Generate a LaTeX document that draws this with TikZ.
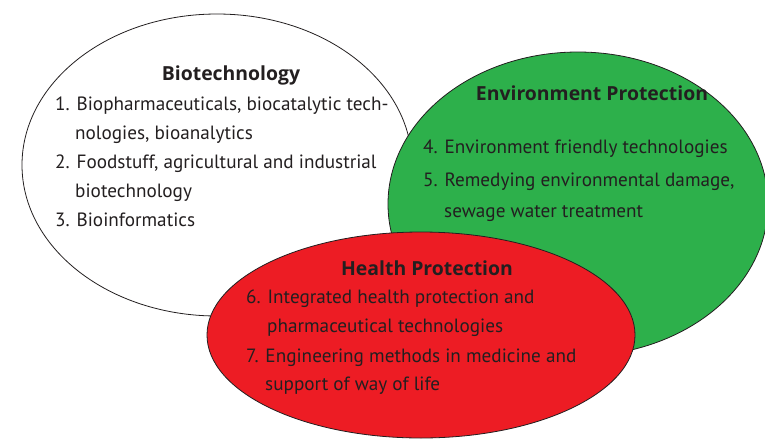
\documentclass[tikz,border=0pt]{standalone}
\usepackage{fontspec}
\setmainfont{PT Sans}
\newfontfamily\titlefont{Open Sans}
\definecolor{envgreen}{RGB}{45,176,75}
\definecolor{healthred}{RGB}{237,28,36}
\definecolor{txt}{RGB}{35,31,32}
\tikzset{
  blob/.style={draw=txt, line width=0.8pt},
  title/.style={font=\titlefont\fontsize{19.4}{22}\selectfont\bfseries, text=txt, anchor=base, inner sep=0pt},
  item/.style={font=\fontsize{19.2}{22}\selectfont, text=txt, anchor=base west, inner sep=0pt}
}
\begin{document}
\begin{tikzpicture}[x=1pt,y=-1pt]
\useasboundingbox (0,0) rectangle (765,439);
\clip (0,0) rectangle (765,439);
% ellipses
\path[blob, fill=white] (217,165) ellipse [x radius=195pt, y radius=151pt];
\path[blob, fill=envgreen] (578,204) ellipse [x radius=190pt, y radius=152pt];
\path[blob, fill=healthred] (421,335) ellipse [x radius=214pt, y radius=103pt];
% Biotechnology
\node[title] (bt) at (231,80) {Biotechnology};
\node[item] (b1) at (55,110) {1. Biopharmaceuticals, biocatalytic tech-};
\node[item] (b1b) at (75,139) {nologies, bioanalytics};
\node[item] (b2) at (55,168) {2. Foodstuff, agricultural and industrial};
\node[item] (b2b) at (75,197) {biotechnology};
\node[item] (b3) at (55,226) {3. Bioinformatics};
% Environment
\node[title] (et) at (592,100) {Environment Protection};
\node[item] (e4) at (423,153) {4. Environment friendly technologies};
\node[item] (e5) at (423,186) {5. Remedying environmental damage,};
\node[item] (e5b) at (444,217) {sewage water treatment};
% Health
\node[title] (ht) at (427,275) {Health Protection};
\node[item] (h6) at (246,303) {6. Integrated health protection and};
\node[item] (h6b) at (267,332) {pharmaceutical technologies};
\node[item] (h7) at (246,362) {7. Engineering methods in medicine and};
\node[item] (h7b) at (265,390) {support of way of life};
\end{tikzpicture}
\end{document}
